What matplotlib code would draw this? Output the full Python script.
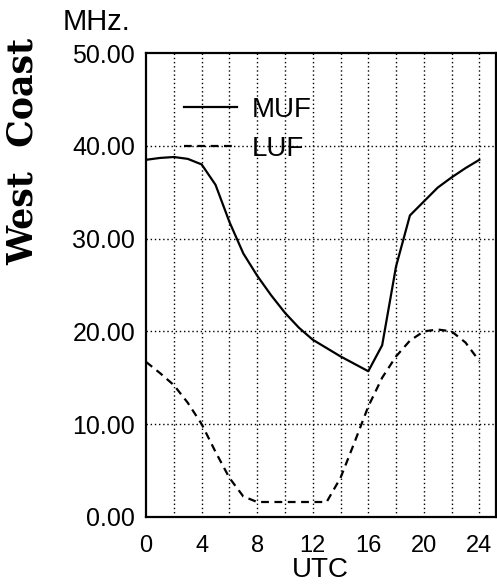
import matplotlib
matplotlib.use('Agg')
import matplotlib.pyplot as plt

# ---------------------------------------------------------------------
# Data
# ---------------------------------------------------------------------
utc_hours = list(range(0, 25))
muf_mhz = [38.5, 38.7, 38.8, 38.6, 38.0, 35.8, 31.8, 28.4, 26.0, 23.9,
           22.0, 20.4, 19.1, 18.2, 17.3, 16.5, 15.7, 18.5, 27.0, 32.5,
           34.0, 35.5, 36.6, 37.6, 38.5]
luf_mhz = [16.7, 15.5, 14.2, 12.3, 10.0, 7.0, 4.2, 2.2, 1.6, 1.6,
           1.6, 1.6, 1.6, 1.6, 4.2, 8.0, 11.9, 15.0, 17.3, 19.0,
           20.0, 20.2, 20.0, 18.8, 16.8]

x_ticks = [0, 4, 8, 12, 16, 20, 24]
y_ticks = [0, 10, 20, 30, 40, 50]
y_tick_labels = ['0.00', '10.00', '20.00', '30.00', '40.00', '50.00']

plt.rcParams['font.family'] = ['Liberation Sans', 'DejaVu Sans']

fig = plt.figure(figsize=(4.97, 5.84), dpi=100)
ax = fig.add_axes([0.294, 0.115, 0.704, 0.794])

ax.plot(utc_hours, muf_mhz, color='black', linewidth=1.6, label='MUF')
ax.plot(utc_hours, luf_mhz, color='black', linewidth=1.6,
        linestyle=(0, (3.5, 2.5)), label='LUF')

ax.set_xlim(0, 25.2)
ax.set_ylim(0, 50)

# dotted grid: every 2 h, every 10 MHz
for h in range(2, 25, 2):
    ax.axvline(h, color='black', linestyle=(0, (1, 2)), linewidth=1.0, zorder=0)
for v in [10, 20, 30, 40]:
    ax.axhline(v, color='black', linestyle=(0, (1, 2)), linewidth=1.0, zorder=0)

ax.set_xticks(x_ticks)
ax.set_yticks(y_ticks)
ax.set_yticklabels(y_tick_labels)
ax.tick_params(axis='x', length=0, pad=13, labelsize=17)
ax.tick_params(axis='y', length=0, pad=8, labelsize=18)

for s in ax.spines.values():
    s.set_linewidth(1.6)

ax.legend(loc='upper left', bbox_to_anchor=(0.108, 0.905), frameon=False,
          fontsize=20, handlelength=1.9, handletextpad=0.55, labelspacing=0.45,
          borderpad=0, borderaxespad=0)

fig.text(0.195, 0.962, 'MHz.', fontsize=21, ha='center', va='center')
fig.text(0.644, 0.046, 'UTC', fontsize=20, ha='center', va='top')
fig.text(0.046, 0.741, 'West  Coast', fontsize=25, fontweight='bold',
         family='DejaVu Serif', rotation=90, ha='center', va='center')

fig.savefig('out.png', dpi=100)
